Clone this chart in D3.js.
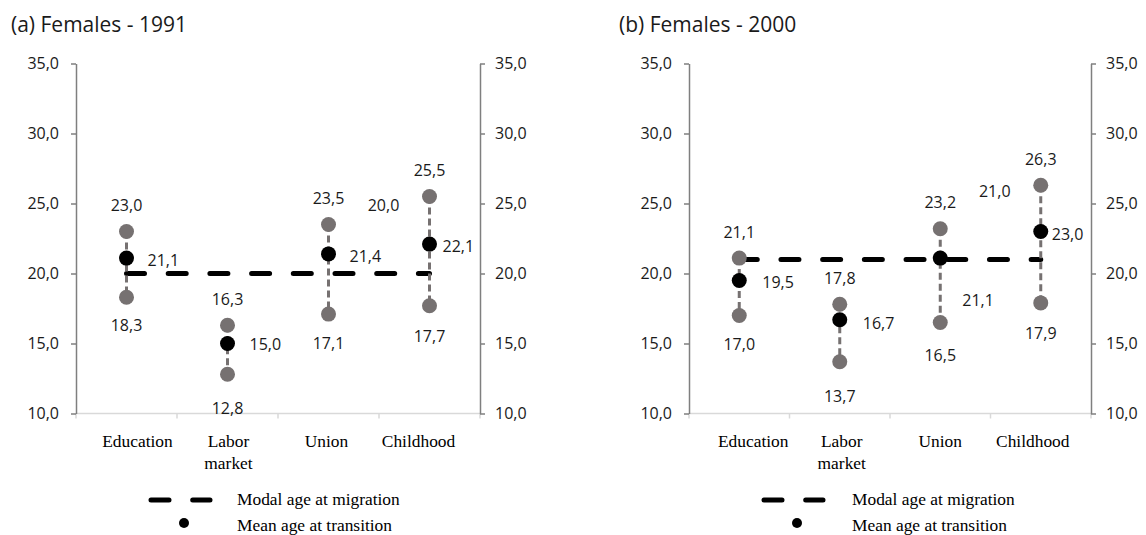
<!DOCTYPE html>
<html>
<head>
<meta charset="utf-8">
<style>
body { margin: 0; background: #fff; }
svg { display: block; }
.num { font-family: "Open Sans", sans-serif; font-size: 16px; fill: #1a1a1a; }
.serif { font-family: "Liberation Serif", "Times New Roman", serif; font-size: 17.4px; fill: #000; }
</style>
</head>
<body>
<svg width="1146" height="535"></svg>
<script src="https://cdn.jsdelivr.net/npm/d3@7"></script>
<script>

var categories = ["Education", "Labor market", "Union", "Childhood"];
var yTicks = [10, 15, 20, 25, 30, 35];

// 1991
var max1991 = [23.0, 16.3, 23.5, 25.5];
var mean1991 = [21.1, 15.0, 21.4, 22.1];
var min1991 = [18.3, 12.8, 17.1, 17.7];
var modal1991 = 20.0;

// 2000
var max2000 = [21.1, 17.8, 23.2, 26.3];
var mean2000 = [19.5, 16.7, 21.1, 23.0];
var min2000 = [17.0, 13.7, 16.5, 17.9];
var modal2000 = 21.0;

var locale = d3.formatLocale({decimal: ",", thousands: ".", grouping: [3], currency: ["", ""]});
var fmt = locale.format(".1f");

var grey = "#767171",
    axisGrey = "#7f7f7f";

var svg = d3.select("svg");

var y = d3.scaleLinear()
    .domain([10, 35])
    .range([413.5, 63.5]);

var panels = [
  {title: "(a) Females - 1991", titleX: 11, left: 76, right: 480,
   max: max1991, mean: mean1991, min: min1991, modal: modal1991,
   meanDx: [21, 22, 21, 13], meanDy: [2, 0, 2, 2], belowDy: [28, 34, 29, 30],
   catNudge: [11, 1, -2, -11], legendX: 151, legendTextX: 237},
  {title: "(b) Females - 2000", titleX: 619, left: 689, right: 1091,
   max: max2000, mean: mean2000, min: min2000, modal: modal2000,
   meanDx: [23, 23, 22, 11], meanDy: [1.5, 3, 42, 2], belowDy: [28, 34, 32, 30],
   catNudge: [14, 2, 0, -8], legendX: 764, legendTextX: 852}
];

panels.forEach(drawPanel);

function drawPanel(p) {
  var g = svg.append("g");

  var x = d3.scaleBand()
      .domain(categories)
      .range([p.left, p.right]);

  function cx(i) { return x(categories[i]) + x.bandwidth() / 2; }

  // title
  g.append("text")
      .attr("x", p.titleX)
      .attr("y", 32)
      .attr("font-family", "Open Sans, sans-serif")
      .attr("font-size", 21)
      .attr("fill", "#1a1a1a")
      .text(p.title);

  // x axis (line + ticks at band edges)
  var bounds = categories.map(function(c) { return x(c); }).concat([p.right]);
  g.append("line")
      .attr("x1", p.left).attr("x2", p.right)
      .attr("y1", y(10)).attr("y2", y(10))
      .attr("stroke", "#d9d9d9").attr("stroke-width", 1.5);
  g.selectAll(".xtick")
    .data(bounds)
    .enter().append("line")
      .attr("x1", function(d) { return d; }).attr("x2", function(d) { return d; })
      .attr("y1", y(10)).attr("y2", y(10) + 5)
      .attr("stroke", "#d9d9d9").attr("stroke-width", 1.5);

  // category labels
  var cat = g.selectAll(".cat")
    .data(categories)
    .enter().append("text")
      .attr("class", "serif")
      .attr("text-anchor", "middle")
      .attr("y", 447);
  cat.each(function(d, i) {
    var words = d.split(" ");
    var t = d3.select(this);
    words.forEach(function(w, j) {
      t.append("tspan")
        .attr("x", cx(i) + p.catNudge[i])
        .attr("dy", j === 0 ? 0 : 22)
        .text(w);
    });
  });

  // y axes
  var left = g.append("g")
      .attr("transform", "translate(" + p.left + ",0)")
      .call(d3.axisLeft(y).tickValues(yTicks).tickFormat(fmt).tickSize(5).tickSizeOuter(0).tickPadding(12));
  var right = g.append("g")
      .attr("transform", "translate(" + p.right + ",0)")
      .call(d3.axisRight(y).tickValues(yTicks).tickFormat(fmt).tickSize(5).tickSizeOuter(0).tickPadding(10));
  [left, right].forEach(function(a) {
    a.select(".domain").attr("stroke", axisGrey).attr("stroke-width", 1.5);
    a.selectAll(".tick line").attr("stroke", axisGrey).attr("stroke-width", 1.5);
    a.selectAll(".tick text").attr("class", "num").attr("font-family", null).attr("font-size", null);
    a.attr("font-family", null).attr("font-size", null);
  });

  // modal age line
  var line = d3.line()
      .x(function(d, i) { return cx(i); })
      .y(function(d) { return y(d); });
  g.append("path")
      .datum(categories.map(function() { return p.modal; }))
      .attr("d", line)
      .attr("fill", "none")
      .attr("stroke", "#000")
      .attr("stroke-width", 5)
      .attr("stroke-linecap", "round")
      .attr("stroke-dasharray", "18,23.7");

  // min-max range lines
  g.selectAll(".range")
    .data(categories)
    .enter().append("line")
      .attr("x1", function(d, i) { return cx(i); })
      .attr("x2", function(d, i) { return cx(i); })
      .attr("y1", function(d, i) { return y(p.max[i]); })
      .attr("y2", function(d, i) { return y(p.min[i]); })
      .attr("stroke", grey)
      .attr("stroke-width", 3)
      .attr("stroke-dasharray", "7,4");

  // dots
  [p.max, p.min].forEach(function(arr) {
    g.selectAll(null)
      .data(arr)
      .enter().append("circle")
        .attr("cx", function(d, i) { return cx(i); })
        .attr("cy", function(d) { return y(d); })
        .attr("r", 7.5)
        .attr("fill", grey);
  });
  g.selectAll(null)
    .data(p.mean)
    .enter().append("circle")
      .attr("cx", function(d, i) { return cx(i); })
      .attr("cy", function(d) { return y(d); })
      .attr("r", 7.5)
      .attr("fill", "#000");

  // value labels
  g.selectAll(null)
    .data(p.max)
    .enter().append("text")
      .attr("class", "num")
      .attr("text-anchor", "middle")
      .attr("x", function(d, i) { return cx(i); })
      .attr("y", function(d) { return y(d) - 20.5; })
      .text(fmt);
  g.selectAll(null)
    .data(p.min)
    .enter().append("text")
      .attr("class", "num")
      .attr("text-anchor", "middle")
      .attr("x", function(d, i) { return cx(i); })
      .attr("y", function(d, i) { return y(d) + p.belowDy[i] + 6; })
      .text(fmt);
  g.selectAll(null)
    .data(p.mean)
    .enter().append("text")
      .attr("class", "num")
      .attr("x", function(d, i) { return cx(i) + p.meanDx[i]; })
      .attr("y", function(d, i) { return y(d) + p.meanDy[i] + 6; })
      .text(fmt);
  g.append("text")
      .attr("class", "num")
      .attr("text-anchor", "middle")
      .attr("x", cx(3) - 46)
      .attr("y", y(p.modal) - 69 + 6)
      .text(fmt(p.modal));

  // legend
  g.append("line")
      .attr("x1", p.legendX).attr("x2", p.legendX + 59)
      .attr("y1", 500).attr("y2", 500)
      .attr("stroke", "#000")
      .attr("stroke-width", 5)
      .attr("stroke-linecap", "round")
      .attr("stroke-dasharray", "18,23.7");
  g.append("circle")
      .attr("cx", p.legendX + 33)
      .attr("cy", 523)
      .attr("r", 5)
      .attr("fill", "#000");
  g.append("text")
      .attr("class", "serif")
      .attr("x", p.legendTextX)
      .attr("y", 505)
      .text("Modal age at migration");
  g.append("text")
      .attr("class", "serif")
      .attr("x", p.legendTextX)
      .attr("y", 531)
      .text("Mean age at transition");
}

</script>
</body>
</html>
